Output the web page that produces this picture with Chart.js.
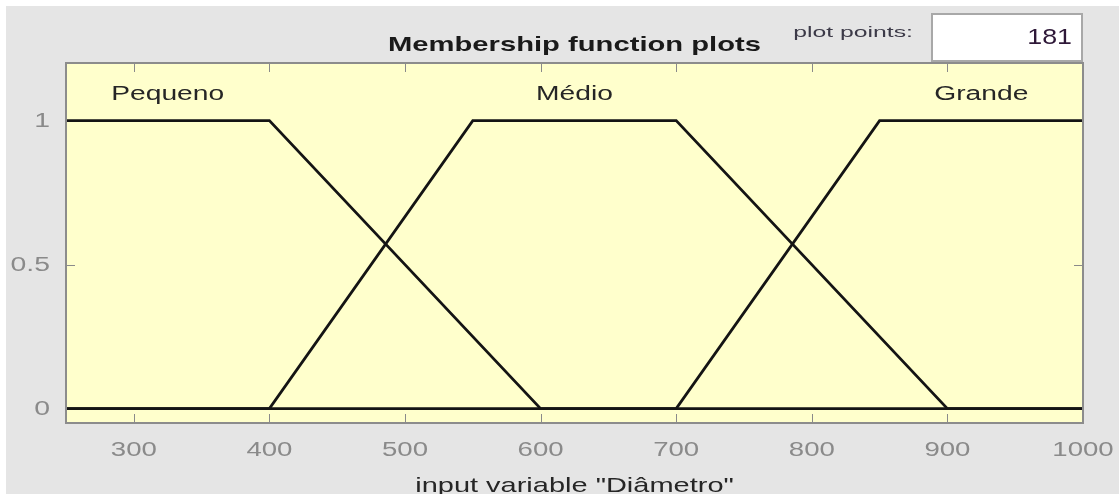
<!DOCTYPE html>
<html>
<head>
<meta charset="utf-8">
<title>Membership function plots</title>
<script src="https://cdn.jsdelivr.net/npm/chart.js@4/dist/chart.umd.min.js"></script>
<style>
  html, body { margin: 0; padding: 0; background: #ffffff; }
  canvas { display: block; }
</style>
</head>
<body>
<canvas id="mf" width="1119" height="494"></canvas>
<script>
// Input variable "Diâmetro": universe and trapezoidal membership functions
const universe = [250, 1000];
const mfNames = ['Pequeno', 'Médio', 'Grande'];
// Breakpoints [x, membership] of each trapezoid across the universe
const pequenoX = [250, 400, 600, 1000];
const pequenoY = [1, 1, 0, 0];
const medioX = [250, 400, 550, 700, 900, 1000];
const medioY = [0, 0, 1, 1, 0, 0];
const grandeX = [250, 700, 850, 1000];
const grandeY = [0, 0, 1, 1];
// Plateau centre of each function, where its name is written
const labelX = [325, 625, 925];
const labelY = 1.09;

const xTicks = [300, 400, 500, 600, 700, 800, 900, 1000];
const yTicks = [0, 0.5, 1];
const yTickText = ['0', '0.5', '1'];
const plotPoints = 181;

const FONT = '"Liberation Sans", Arial, Helvetica, sans-serif';

function pts(xs, ys) { return xs.map((x, i) => ({ x: x, y: ys[i] })); }

function wideText(ctx, text, x, y, opt) {
  ctx.save();
  ctx.translate(x, y);
  ctx.scale(opt.sx || 1, 1);
  ctx.font = opt.font;
  ctx.fillStyle = opt.color;
  ctx.textAlign = opt.align || 'center';
  ctx.textBaseline = opt.baseline || 'middle';
  ctx.fillText(text, 0, 0);
  ctx.restore();
}

const panelPlugin = {
  id: 'panel',
  beforeDraw(chart) {
    const ctx = chart.ctx, a = chart.chartArea;
    ctx.save();
    ctx.fillStyle = '#ffffff';
    ctx.fillRect(0, 0, chart.width, chart.height);
    ctx.fillStyle = '#e5e5e5';
    ctx.fillRect(6, 6, chart.width - 6, chart.height - 6);
    ctx.fillStyle = '#ffffcc';
    ctx.fillRect(a.left, a.top, a.right - a.left, a.bottom - a.top);
    ctx.restore();
  },
  beforeDatasetsDraw(chart) {
    // inward tick marks on all four sides, beneath the curves
    const ctx = chart.ctx, a = chart.chartArea;
    const xs = chart.scales.x, ys = chart.scales.y;
    ctx.save();
    ctx.strokeStyle = '#8a8a8a';
    ctx.lineWidth = 1;
    const tl = 9;
    ctx.beginPath();
    xTicks.forEach(v => {
      const px = Math.round(xs.getPixelForValue(v)) + 0.5;
      ctx.moveTo(px, a.top); ctx.lineTo(px, a.top + tl);
      ctx.moveTo(px, a.bottom); ctx.lineTo(px, a.bottom - tl);
    });
    yTicks.forEach(v => {
      const py = Math.round(ys.getPixelForValue(v)) + 0.5;
      ctx.moveTo(a.left, py); ctx.lineTo(a.left + tl, py);
      ctx.moveTo(a.right, py); ctx.lineTo(a.right - tl, py);
    });
    ctx.stroke();
    ctx.restore();
  },
  afterDatasetsDraw(chart) {
    const ctx = chart.ctx, a = chart.chartArea;
    const xs = chart.scales.x, ys = chart.scales.y;
    ctx.save();
    // axes box
    ctx.strokeStyle = '#8c8c8c';
    ctx.lineWidth = 2;
    ctx.strokeRect(a.left, a.top, a.right - a.left, a.bottom - a.top);

    // tick labels
    xTicks.forEach(v => {
      wideText(ctx, String(v), xs.getPixelForValue(v), 450,
        { font: '20px ' + FONT, color: '#8a8a8a', sx: 1.38 });
    });
    yTicks.forEach((v, i) => {
      wideText(ctx, yTickText[i], 50, ys.getPixelForValue(v) + 1,
        { font: '20px ' + FONT, color: '#8a8a8a', sx: 1.42, align: 'right' });
    });

    // membership function names
    mfNames.forEach((name, i) => {
      wideText(ctx, name, xs.getPixelForValue(labelX[i]), ys.getPixelForValue(labelY),
        { font: '20px ' + FONT, color: '#262626', sx: 1.41 });
    });

    // title and axis title
    wideText(ctx, 'Membership function plots', (a.left + a.right) / 2, 45,
      { font: 'bold 21px ' + FONT, color: '#1a1a1a', sx: 1.39 });
    wideText(ctx, 'input variable "Diâmetro"', (a.left + a.right) / 2, 486,
      { font: '21px ' + FONT, color: '#262626', sx: 1.38 });

    // plot points field
    wideText(ctx, 'plot points:', 913, 33,
      { font: '15px ' + FONT, color: '#3c3a48', sx: 1.65, align: 'right' });
    ctx.fillStyle = '#ffffff';
    ctx.fillRect(932, 14, 150, 47);
    ctx.strokeStyle = '#a8a8a8';
    ctx.lineWidth = 2;
    ctx.strokeRect(932, 14, 150, 47);
    wideText(ctx, String(plotPoints), 1072, 38,
      { font: '22px ' + FONT, color: '#2e1838', sx: 1.22, align: 'right' });
    ctx.restore();
  }
};

const lineStyle = {
  borderColor: '#141414',
  borderWidth: 2.8,
  pointRadius: 0,
  tension: 0,
  fill: false
};

new Chart(document.getElementById('mf'), {
  type: 'line',
  data: {
    datasets: [
      Object.assign({ label: mfNames[0], data: pts(pequenoX, pequenoY) }, lineStyle),
      Object.assign({ label: mfNames[1], data: pts(medioX, medioY) }, lineStyle),
      Object.assign({ label: mfNames[2], data: pts(grandeX, grandeY) }, lineStyle)
    ]
  },
  options: {
    responsive: false,
    devicePixelRatio: 1,
    animation: false,
    layout: { padding: { left: 66, top: 63, right: 36, bottom: 71 } },
    plugins: { legend: { display: false }, tooltip: { enabled: false } },
    scales: {
      x: { type: 'linear', min: universe[0], max: universe[1], display: false },
      y: { type: 'linear', min: -0.05, max: 1.2, display: false }
    }
  },
  plugins: [panelPlugin]
});
</script>
</body>
</html>
